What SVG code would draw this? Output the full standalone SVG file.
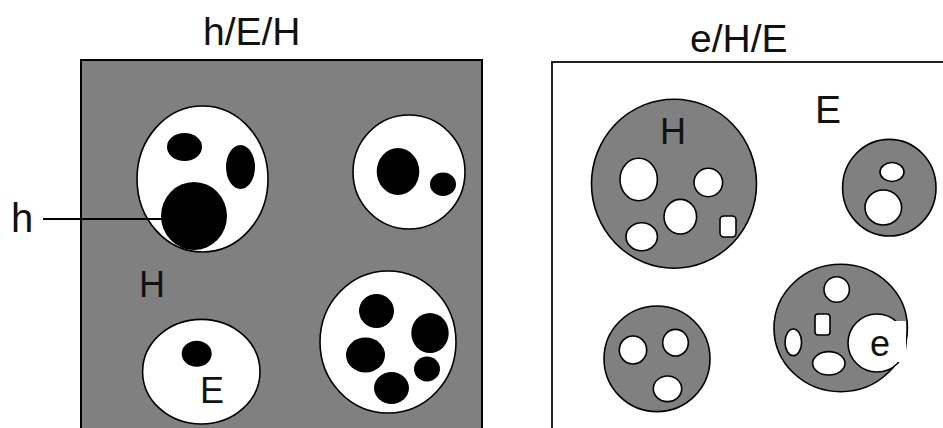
<svg xmlns="http://www.w3.org/2000/svg" width="943" height="428" viewBox="0 0 943 428">
<style>
.t{font-family:"Liberation Sans",Arial,sans-serif;fill:#111}
.title{font-size:39px}
.lbl{font-size:36px}
.cw{fill:#fff;stroke:#000;stroke-width:1.6}
.cg{fill:#808080;stroke:#000;stroke-width:1.6}
.blob{fill:#000}
</style>
<rect width="943" height="428" fill="#fff"/>
<g id="panel-left">
<rect x="81" y="60" width="401" height="372" fill="#808080" stroke="#000" stroke-width="2"/>
<text class="t title" x="203" y="45">h/E/H</text>
<text class="t lbl" x="139" y="297">H</text>
</g>
<g id="panel-right">
<rect x="552" y="62" width="400" height="372" fill="#fff" stroke="#222" stroke-width="2"/>
<text class="t title" x="690" y="52">e/H/E</text>
<text class="t" style="font-size:39px" x="815" y="123">E</text>
</g>
<g id="cell-l1">
<ellipse class="cw" cx="202.5" cy="179" rx="65.5" ry="73"/>
<ellipse class="blob" cx="184.5" cy="147" rx="17.5" ry="14"/>
<ellipse class="blob" cx="240.5" cy="167" rx="14.5" ry="22"/>
<ellipse class="blob" cx="194" cy="216" rx="33" ry="34"/>
</g>
<g id="cell-l2">
<ellipse class="cw" cx="409" cy="172" rx="56" ry="57"/>
<ellipse class="blob" cx="398" cy="171.5" rx="21.3" ry="23.5"/>
<ellipse class="blob" cx="443" cy="184.3" rx="13" ry="11.7"/>
</g>
<g id="cell-l3">
<ellipse class="cw" cx="388" cy="342" rx="68" ry="71"/>
<ellipse class="blob" cx="376.5" cy="311" rx="17.5" ry="17"/>
<ellipse class="blob" cx="430" cy="333" rx="18.7" ry="20"/>
<ellipse class="blob" cx="365.5" cy="355" rx="19.5" ry="17.5"/>
<ellipse class="blob" cx="427" cy="369" rx="13" ry="12.5"/>
<ellipse class="blob" cx="391.5" cy="388" rx="17.5" ry="16"/>
</g>
<g id="cell-l4">
<ellipse class="cw" cx="201.3" cy="371.7" rx="58.7" ry="52.3"/>
<ellipse class="blob" cx="196.7" cy="353.7" rx="15" ry="13"/>
<text class="t lbl" x="200" y="403">E</text>
</g>
<g id="cell-r1">
<ellipse class="cg" cx="674" cy="183.7" rx="82.5" ry="84.5"/>
<text class="t lbl" x="660" y="144">H</text>
<ellipse class="cw" cx="638.7" cy="179.5" rx="18.7" ry="21.2"/>
<ellipse class="cw" cx="708.3" cy="182.5" rx="14.3" ry="14.2"/>
<ellipse class="cw" cx="680.3" cy="216.7" rx="16.3" ry="17.3"/>
<ellipse class="cw" cx="641.7" cy="236.7" rx="15.7" ry="14"/>
<rect class="cw" x="720" y="216" width="16" height="21" rx="4"/>
</g>
<g id="cell-r2">
<ellipse class="cg" cx="889.3" cy="187.7" rx="46.7" ry="48.3"/>
<ellipse class="cw" cx="892" cy="172" rx="12" ry="9.5"/>
<ellipse class="cw" cx="883.3" cy="207.5" rx="18.3" ry="17.5"/>
</g>
<g id="cell-r3">
<ellipse class="cg" cx="657" cy="358.8" rx="53" ry="52.8"/>
<ellipse class="cw" cx="633" cy="350" rx="13.7" ry="14"/>
<ellipse class="cw" cx="675.5" cy="342.7" rx="12.8" ry="13.3"/>
<ellipse class="cw" cx="667.5" cy="388.8" rx="14.2" ry="12.8"/>
</g>
<g id="cell-r4">
<ellipse class="cg" cx="840.7" cy="328" rx="66.7" ry="63.7"/>
<ellipse class="cw" cx="836.7" cy="289.5" rx="12.7" ry="12.8"/>
<rect class="cw" x="815" y="314" width="15" height="21" rx="3"/>
<ellipse class="cw" cx="793.3" cy="342.3" rx="8.3" ry="13.3"/>
<ellipse class="cw" cx="828.8" cy="363.3" rx="16.2" ry="11.7"/>
<circle class="cw" cx="877" cy="343" r="29"/>
<rect x="880" y="321" width="26" height="41" fill="#fff"/>
<text class="t lbl" x="870" y="356">e</text>
</g>
<g id="connectors">
<line x1="43" y1="219" x2="163" y2="219" stroke="#000" stroke-width="2"/>
</g>
<g id="label-h">
<text class="t" style="font-size:40px" x="11" y="232">h</text>
</g>
</svg>
